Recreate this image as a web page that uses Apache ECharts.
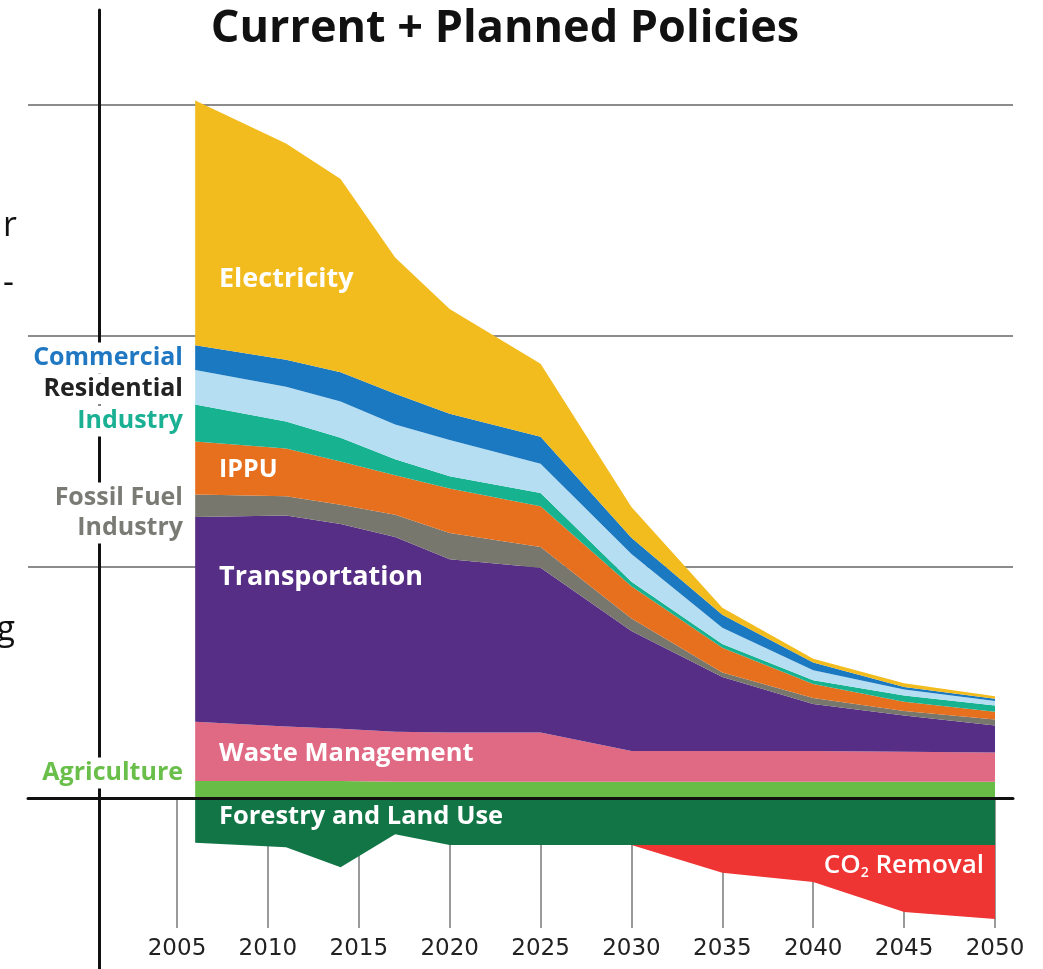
<!DOCTYPE html>
<html><head><meta charset="utf-8">
<script src="https://cdn.jsdelivr.net/npm/echarts@6/dist/echarts.min.js"></script>
<style>html,body{margin:0;padding:0;background:#fff}#c{width:1043px;height:969px}</style>
</head><body><div id="c"></div>
<script>
// Data (units: gridline spacing = 30)
const years = [2006, 2011, 2014, 2017, 2020, 2025, 2030, 2035, 2040, 2045, 2050];
const agriculture = [2.2, 2.2, 2.2, 2.1, 2.1, 2.1, 2.1, 2.1, 2.1, 2.1, 2.1];
const wasteManagement = [7.7, 7.1, 6.8, 6.5, 6.4, 6.4, 4.0, 4.0, 4.0, 3.9, 3.8];
const transportation = [26.6, 27.4, 26.6, 25.3, 22.5, 21.4, 15.6, 9.6, 6.1, 4.7, 3.5];
const fossilFuelIndustry = [2.9, 2.5, 2.5, 2.9, 3.4, 2.7, 1.6, 0.6, 0.8, 0.6, 0.8];
const ippu = [6.9, 6.2, 5.6, 5.1, 5.8, 5.3, 4.2, 3.2, 1.8, 1.2, 1.0];
const industry = [4.8, 3.5, 3.1, 2.1, 1.6, 1.7, 0.6, 0.5, 0.5, 0.8, 0.8];
const residential = [4.5, 4.5, 4.7, 4.5, 4.7, 3.8, 3.6, 2.1, 1.3, 0.8, 0.6];
const commercial = [3.2, 3.5, 3.8, 4.0, 3.4, 3.5, 2.1, 1.7, 1.0, 0.3, 0.3];
const electricity = [31.8, 28.1, 25.1, 17.7, 13.6, 9.5, 4.0, 0.9, 0.5, 0.5, 0.3];
const forestryLandUse = [-5.8, -6.4, -9.0, -4.7, -6.1, -6.1, -6.1, -6.1, -6.1, -6.1, -6.1];
const co2Removal = [null, null, null, null, null, null, 0, -3.6, -4.8, -8.7, -9.6];
const tickStart = 2005, tickEnd = 2050, tickStep = 5;
const gridValues = [0, 30, 60, 90];

const title = 'Current + Planned Policies';
const posLayers = [
  ['Agriculture', agriculture, '#67bd46'],
  ['Waste Management', wasteManagement, '#e06a84'],
  ['Transportation', transportation, '#572e85'],
  ['Fossil Fuel Industry', fossilFuelIndustry, '#77776d'],
  ['IPPU', ippu, '#e6701e'],
  ['Industry', industry, '#17b290'],
  ['Residential', residential, '#b6def2'],
  ['Commercial', commercial, '#1b79c1'],
  ['Electricity', electricity, '#f2bb1e']
];
const negLayers = [
  ['Forestry and Land Use', forestryLandUse, '#127546'],
  ['CO2 Removal', co2Removal, '#ef3434']
];

// time axis keeps the x dimension out of the stack
const yearDate = y => Date.UTC(y, 0, 1);
const series = [];
function addLayer(stack) {
  return ([name, arr, color]) => series.push({
    name, type: 'line', stack, xAxisIndex: 1, yAxisIndex: 1,
    symbol: 'none', lineStyle: { width: 0 }, areaStyle: { color, opacity: 1 },
    data: years.map((y, i) => [yearDate(y), arr[i]])
  });
}
posLayers.forEach(addLayer('pos'));
negLayers.forEach(addLayer('neg'));

const FONT = '"Open Sans", Lato, sans-serif';
function lbl(text, x, y, fill, align, size, bg, weight) {
  const style = { text, x, y, fill, textAlign: align, textVerticalAlign: 'middle',
    font: (weight || 'bold') + ' ' + size + 'px ' + FONT };
  if (bg) { style.backgroundColor = '#fff'; style.padding = [3, 2]; }
  return { type: 'text', z: 100, style };
}

const chart = echarts.init(document.getElementById('c'), null, { renderer: 'canvas' });
chart.setOption({
  animation: false,
  backgroundColor: '#fff',
  grid: [
    { left: 28, right: 30, top: 105, bottom: 171 },       // grid lines + zero line
    { left: 177, right: 48, top: 89.6, bottom: 40.1 },    // data
    { left: 177, right: 48, top: 798, bottom: 41 },       // year ticks
    { left: 99, width: 2, top: 10, bottom: 0 }            // vertical rule
  ],
  xAxis: [
    { gridIndex: 0, type: 'value', min: 0, max: 1, z: 10,
      axisLine: { show: true, onZero: true, lineStyle: { color: '#111', width: 3 } },
      axisTick: { show: false }, axisLabel: { show: false }, splitLine: { show: false } },
    { gridIndex: 1, type: 'time', min: yearDate(tickStart), max: yearDate(tickEnd), show: false },
    { gridIndex: 2, type: 'value', min: tickStart, max: tickEnd, interval: tickStep,
      axisLine: { show: false }, axisTick: { show: false },
      axisLabel: { color: '#222', fontSize: 23, fontFamily: '"DejaVu Sans", sans-serif', margin: 10,
        formatter: v => String(v) },
      splitLine: { show: true, lineStyle: { color: '#9a9a9a', width: 2 } } },
    { gridIndex: 3, type: 'value', min: 1, max: 2, show: false }
  ],
  yAxis: [
    { gridIndex: 0, type: 'value', min: gridValues[0], max: gridValues[gridValues.length - 1], interval: 30,
      axisLine: { show: false }, axisTick: { show: false }, axisLabel: { show: false },
      splitLine: { show: true, lineStyle: { color: '#8c8c8c', width: 2 } } },
    { gridIndex: 1, type: 'value', min: -17, max: 92, show: false },
    { gridIndex: 2, type: 'value', min: 0, max: 1, show: false },
    { gridIndex: 3, type: 'value', min: 0, max: 1, z: 10,
      axisLine: { show: true, onZero: false, lineStyle: { color: '#111', width: 3 } },
      axisTick: { show: false }, axisLabel: { show: false }, splitLine: { show: false } }
  ],
  series,
  graphic: [
    lbl(title, 505, 29, '#111', 'center', 45, false, 'bold'),
    lbl('r', 17, 226, '#111', 'right', 34, false, 'normal'),
    lbl('-', 14, 283, '#111', 'right', 34, false, 'normal'),
    lbl('g', 15, 630, '#111', 'right', 34, false, 'normal'),
    lbl('Commercial', 185, 358, '#1f78c1', 'right', 25, true),
    lbl('Residential', 185, 389, '#222', 'right', 25, true),
    lbl('Industry', 185, 421, '#19b093', 'right', 25, true),
    lbl('Fossil Fuel', 185, 498, '#7b7b75', 'right', 25, true),
    lbl('Industry', 185, 528, '#7b7b75', 'right', 25, true),
    lbl('Agriculture', 185, 773, '#6abf4b', 'right', 25, true),
    lbl('Electricity', 219, 279, '#fff', 'left', 27),
    lbl('IPPU', 219, 470, '#fff', 'left', 25),
    lbl('Transportation', 219, 577, '#fff', 'left', 27),
    lbl('Waste Management', 219, 754, '#fff', 'left', 25.5),
    lbl('Forestry and Land Use', 219, 817, '#fff', 'left', 25.5),
    { type: 'text', z: 100, style: {
        text: '{a|CO}{s|2}{a| Removal}', x: 984, y: 866, textAlign: 'right', textVerticalAlign: 'middle',
        rich: {
          a: { fill: '#fff', font: '600 26px "Open Sans", sans-serif' },
          s: { fill: '#fff', font: '600 14px "Open Sans", sans-serif', padding: [15, 0, 0, 0] }
        } } }
  ]
});
</script></body></html>
